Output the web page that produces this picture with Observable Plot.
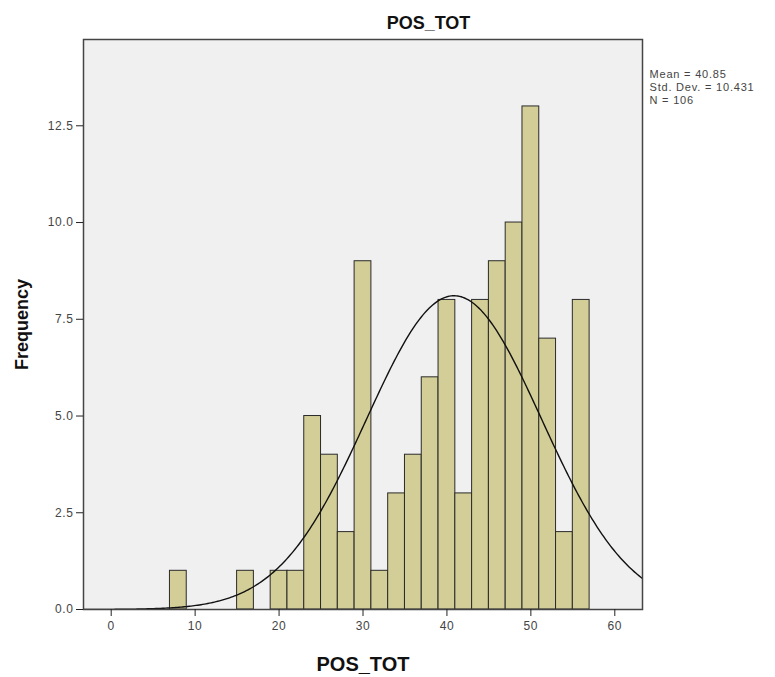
<!DOCTYPE html>
<html><head><meta charset="utf-8">
<script src="https://cdn.jsdelivr.net/npm/d3@7"></script>
<script src="https://cdn.jsdelivr.net/npm/@observablehq/plot@0.6"></script>
<style>
body{margin:0;background:#fff}
g[aria-label="x-axis tick label"] text, g[aria-label="y-axis tick label"] text {letter-spacing:0.6px}
.stats text {letter-spacing:0.8px}
</style>
</head><body><div id="chart"></div>
<script>
// Histogram bins (lower edge) and counts
const binStarts = [7, 15, 19, 21, 23, 25, 27, 29, 31, 33, 35, 37, 39, 41, 43, 45, 47, 49, 51, 53, 55];
const counts    = [1, 1, 1, 1, 5, 4, 2, 9, 1, 3, 4, 6, 8, 3, 8, 9, 10, 13, 7, 2, 8];
const binWidth = 2;
const xTicks = [0, 10, 20, 30, 40, 50, 60];
const yTicks = [0, 2.5, 5, 7.5, 10, 12.5];
const statLabels = ["Mean = 40.85", "Std. Dev. = 10.431", "N = 106"];
const mean = 40.85, sd = 10.431, n = 106;
const titleText = "POS_TOT";
const xLabel = "POS_TOT";
const yLabel = "Frequency";

const bins = binStarts.map((s, i) => ({x1: s, x2: s + binWidth, y: counts[i]}));
// fitted normal curve (from the reported mean / sd / N)
const xs = d3.range(-3.3, 63.31, 0.2);
const curve = xs.map(x => ({x, y: n * binWidth / (sd * Math.sqrt(2 * Math.PI)) * Math.exp(-0.5 * ((x - mean) / sd) ** 2)}));

const font = "Liberation Sans, Arial, Helvetica, sans-serif";
const chart = Plot.plot({
  width: 775, height: 677,
  marginLeft: 83, marginRight: 133, marginTop: 39, marginBottom: 68,
  style: {fontFamily: font, fontSize: "12px", color: "#222", background: "#fff"},
  x: {domain: [-3.3, 63.3]},
  y: {domain: [0, 14.73]},
  marks: [
    Plot.frame({fill: "#f0f0f0"}),
    Plot.rectY(bins, {x1: "x1", x2: "x2", y: "y", fill: "#d3ce97", stroke: "#2a2a2a", strokeWidth: 1}),
    Plot.line(curve, {x: "x", y: "y", stroke: "#111", strokeWidth: 1.4, clip: true}),
    Plot.frame({stroke: "#444", strokeWidth: 1.5}),
    Plot.axisX(xTicks, {tickSize: 7, tickPadding: 5, label: null, tickFormat: d => String(d), stroke: "#222", fill: "#444"}),
    Plot.axisY(yTicks, {tickSize: 7, tickPadding: 3, label: null, tickFormat: d3.format(".1f"), stroke: "#222", fill: "#444"}),
    Plot.text([titleText], {frameAnchor: "top-left", dx: 345, dy: -11, lineAnchor: "bottom", textAnchor: "middle", fontSize: 18, fontWeight: "bold", fill: "#111"}),
    Plot.text([xLabel], {frameAnchor: "bottom", dy: 61, lineAnchor: "bottom", textAnchor: "middle", fontSize: 20, fontWeight: "bold", fill: "#111"}),
    Plot.text([yLabel], {frameAnchor: "left", dx: -61, rotate: -90, textAnchor: "middle", fontSize: 18, fontWeight: "bold", fill: "#111"}),
    Plot.text([statLabels.join("\n")], {frameAnchor: "top-right", dx: 7, dy: 30, lineAnchor: "top", textAnchor: "start", fontSize: 11, lineHeight: 1.15, fill: "#444", className: "stats"})
  ]
});
document.getElementById("chart").appendChild(chart);
d3.select(chart).selectAll("text").filter(function(){ return this.textContent.startsWith("Mean"); })
  .each(function(){ this.parentNode.classList.add("stats"); });
</script>
</body></html>
